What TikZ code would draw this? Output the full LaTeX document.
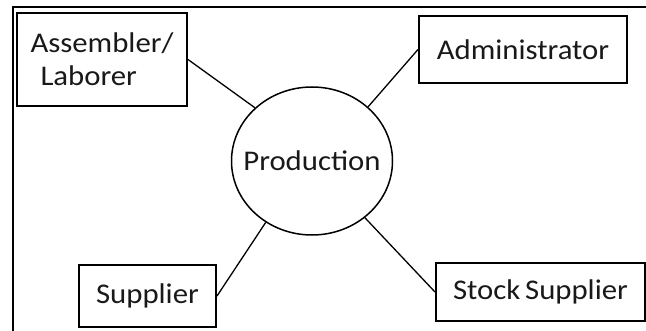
\documentclass[tikz,border=0pt]{standalone}
\usepackage{fontspec}
\newfontfamily\lblfont[FakeStretch=1.08]{Carlito}
\usetikzlibrary{shapes.geometric}
\tikzset{
  lbl/.style={font=\lblfont\fontsize{28.5}{33}\selectfont, text=black!90},
  entity/.style={lbl, draw, line width=2pt, inner sep=0pt, align=center},
  process/.style={lbl, draw, ellipse, line width=1.5pt, inner xsep=-20pt, inner ysep=0pt, minimum width=161pt, minimum height=148pt},
  link/.style={line width=1.3pt},
  frame/.style={line width=2.5pt}
}
\begin{document}
\begin{tikzpicture}[x=1pt,y=-1pt]
\useasboundingbox (0,0) rectangle (646,331);
\fill[white] (0,0) rectangle (646,331);
\draw[frame] (13,331) -- (13,7) -- (646,7);
\node[entity, minimum width=170pt, minimum height=93pt, align=left] (asm) at (102,59.5) {Assembler/\\\hspace*{10pt}Laborer};
\node[entity, minimum width=208pt, minimum height=67pt] (adm) at (523,49.5) {Administrator};
\node[entity, minimum width=137pt, minimum height=62pt] (sup) at (147.5,296) {Supplier};
\node[entity, minimum width=209pt, minimum height=58pt] (stk) at (540.5,292) {Stock\,Supplier};
\node[process] (prod) at (312,161) {Production};
\draw[link] (asm.east) -- (prod.137.5);
\draw[link] (adm.west) -- (prod.44.5);
\draw[link] (sup.east) -- (prod.233);
\draw[link] (stk.west) -- (prod.313);
\end{tikzpicture}
\end{document}
